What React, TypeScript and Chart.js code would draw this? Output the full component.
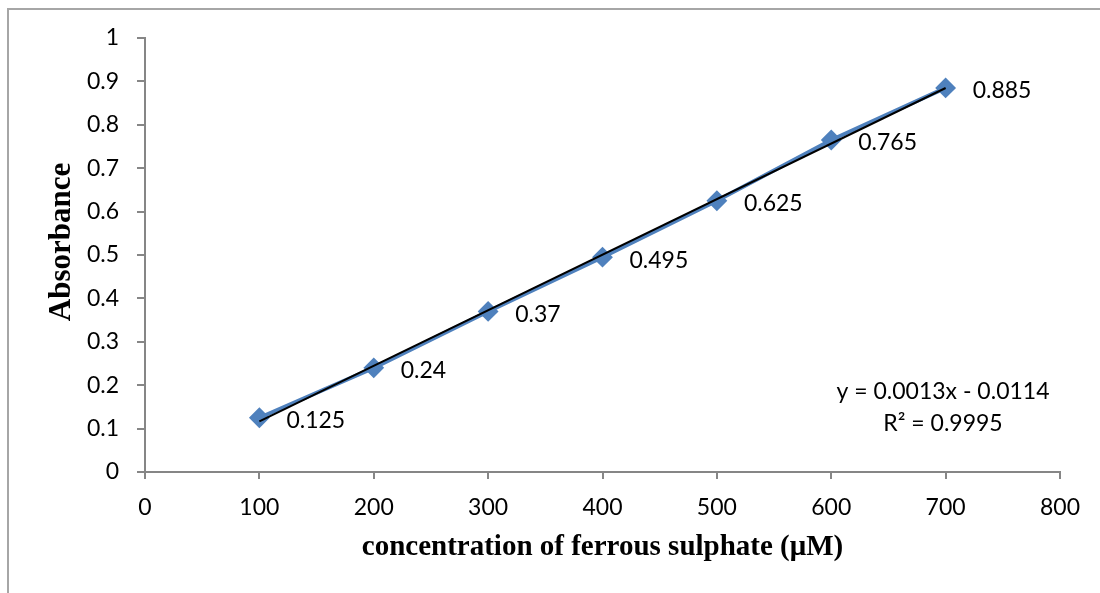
import React, { useEffect, useRef } from "react";
import { Chart, registerables } from "chart.js";

Chart.register(...registerables);

const concentrations = [100, 200, 300, 400, 500, 600, 700];
const absorbance = [0.125, 0.24, 0.37, 0.495, 0.625, 0.765, 0.885];
const equationLines = ["y = 0.0013x - 0.0114", "R² = 0.9995"];
const xTitle = "concentration of ferrous sulphate (μM)";
const yTitle = "Absorbance";

function leastSquares(xs: number[], ys: number[]) {
  const n = xs.length;
  const mx = xs.reduce((a, b) => a + b, 0) / n;
  const my = ys.reduce((a, b) => a + b, 0) / n;
  let sxy = 0;
  let sxx = 0;
  for (let i = 0; i < n; i++) {
    sxy += (xs[i] - mx) * (ys[i] - my);
    sxx += (xs[i] - mx) * (xs[i] - mx);
  }
  const slope = sxy / sxx;
  return { slope, intercept: my - slope * mx };
}

const TICK_FONT = { family: "Lato", size: 23 };
const AXIS_GRAY = "#868686";

export default function App() {
  const ref = useRef<HTMLCanvasElement | null>(null);

  useEffect(() => {
    if (!ref.current) return;
    const fit = leastSquares(concentrations, absorbance);
    const x0 = concentrations[0];
    const x1 = concentrations[concentrations.length - 1];
    const trend = [
      { x: x0, y: fit.slope * x0 + fit.intercept },
      { x: x1, y: fit.slope * x1 + fit.intercept },
    ];

    const decor = {
      id: "decor",
      beforeDraw(chart: any) {
        const ctx = chart.ctx;
        ctx.save();
        ctx.strokeStyle = "#a6a6a6";
        ctx.lineWidth = 2;
        ctx.beginPath();
        ctx.moveTo(8, 600);
        ctx.lineTo(8, 9);
        ctx.lineTo(1110, 9);
        ctx.stroke();
        ctx.restore();
      },
      afterDraw(chart: any) {
        const ctx = chart.ctx;
        const area = chart.chartArea;
        ctx.save();
        // data labels
        const meta = chart.getDatasetMeta(1);
        ctx.fillStyle = "#000";
        ctx.font = "23px Lato";
        ctx.textAlign = "left";
        ctx.textBaseline = "middle";
        meta.data.forEach((pt: any, i: number) => {
          ctx.fillText(String(absorbance[i]), pt.x + 27, pt.y + 3);
        });
        // equation
        ctx.textAlign = "center";
        ctx.fillText(equationLines[0], area.right - 117, area.bottom - 80);
        ctx.fillText(equationLines[1], area.right - 117, area.bottom - 48);
        // axis titles
        ctx.font = "bold 29px 'Liberation Serif'";
        ctx.fillText(xTitle, (area.left + area.right) / 2, 548);
        ctx.font = "bold 31px 'Liberation Serif'";
        ctx.translate(62, (area.top + area.bottom) / 2 - 13);
        ctx.rotate(-Math.PI / 2);
        ctx.fillText(yTitle, 0, 0);
        ctx.restore();
      },
    };

    const chart = new Chart(ref.current, {
      type: "line",
      data: {
        datasets: [
          {
            label: "Linear trend",
            data: trend,
            borderColor: "#000",
            borderWidth: 2,
            pointRadius: 0,
            order: 0,
          },
          {
            label: "Absorbance",
            data: concentrations.map((c, i) => ({ x: c, y: absorbance[i] })),
            borderColor: "#4F81BD",
            backgroundColor: "#4F81BD",
            borderWidth: 4,
            pointStyle: "rectRot",
            pointRadius: 9,
            pointBorderWidth: 2,
            pointBackgroundColor: "#4F81BD",
            pointBorderColor: "#4F81BD",
            order: 1,
          },
        ],
      },
      options: {
        animation: false,
        responsive: false,
        layout: { padding: { top: 38, right: 40, left: 0, bottom: 0 } },
        plugins: { legend: { display: false }, tooltip: { enabled: false } },
        scales: {
          x: {
            type: "linear",
            min: 0,
            max: 800,
            ticks: { stepSize: 100, font: TICK_FONT, color: "#000", padding: 15, maxRotation: 0 },
            grid: { drawOnChartArea: false, drawTicks: true, tickLength: 7, color: AXIS_GRAY, lineWidth: 2 },
            border: { color: AXIS_GRAY, width: 2 },
            afterFit: (s: any) => { s.height = 121; },
          },
          y: {
            min: 0,
            max: 1,
            ticks: {
              stepSize: 0.1,
              font: TICK_FONT,
              color: "#000",
              padding: 18,
              callback: (v: any) => String(Math.round(Number(v) * 10) / 10),
            },
            grid: { drawOnChartArea: false, drawTicks: true, tickLength: 8, color: AXIS_GRAY, lineWidth: 2 },
            border: { color: AXIS_GRAY, width: 2 },
            afterFit: (s: any) => { s.width = 145; },
          },
        },
      },
      plugins: [decor],
    } as any);
    return () => chart.destroy();
  }, []);

  return (
    <div style={{ position: "absolute", left: 0, top: 0, width: 1100, height: 593, background: "#fff" }}>
      <canvas ref={ref} width={1100} height={593} style={{ display: "block" }} />
    </div>
  );
}
